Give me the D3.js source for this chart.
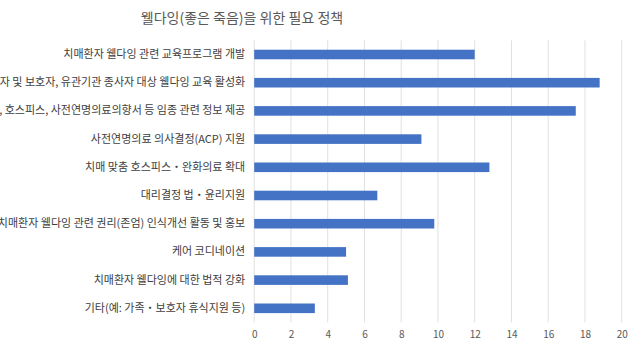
<!DOCTYPE html>
<html>
<head>
<meta charset="utf-8">
<script src="https://cdn.jsdelivr.net/npm/d3@7"></script>
<style>
  html, body { margin: 0; padding: 0; background: #fff; }
  svg { display: block; }
</style>
</head>
<body>
<svg id="chart" width="640" height="360"></svg>
<script>
const title = "웰다잉(좋은 죽음)을 위한 필요 정책";
const categories = [
  "치매환자 웰다잉 관련 교육프로그램 개발",
  "치매환자 및 보호자, 유관기관 종사자 대상 웰다잉 교육 활성화",
  "연명의료, 호스피스, 사전연명의료의향서 등 임종 관련 정보 제공",
  "사전연명의료 의사결정(ACP) 지원",
  "치매 맞춤 호스피스・완화의료 확대",
  "대리결정 법・윤리지원",
  "치매환자 웰다잉 관련 권리(존엄) 인식개선 활동 및 홍보",
  "케어 코디네이션",
  "치매환자 웰다잉에 대한 법적 강화",
  "기타(예: 가족・보호자 휴식지원 등)"
];
const values = [12.0, 18.8, 17.5, 9.1, 12.8, 6.7, 9.8, 5.0, 5.1, 3.3];
const xTicks = [0, 2, 4, 6, 8, 10, 12, 14, 16, 18, 20];

(function () {
const svg = d3.select("#chart");
const font = "'Noto Sans CJK KR', 'Noto Sans', sans-serif";
const mLeft = 254.2, mRight = 621.7, mTop = 40.4, mBottom = 322.4;

const x = d3.scaleLinear().domain([0, 20]).range([mLeft, mRight]);
const y = d3.scaleBand().domain(categories).range([mTop, mBottom]).paddingInner(0.66).paddingOuter(0.33);

svg.append("text")
  .attr("x", 242).attr("y", 23)
  .attr("text-anchor", "middle")
  .attr("font-family", font).attr("font-size", 14)
  .attr("fill", "#595959")
  .text(title);

svg.append("g").selectAll("line").data(xTicks).join("line")
  .attr("x1", d => x(d)).attr("x2", d => x(d))
  .attr("y1", mTop).attr("y2", mBottom)
  .attr("stroke", "#e0e0e0").attr("stroke-width", 1);

svg.append("g").selectAll("rect").data(values).join("rect")
  .attr("x", x(0))
  .attr("y", (d, i) => y(categories[i]))
  .attr("width", d => x(d) - x(0))
  .attr("height", y.bandwidth())
  .attr("fill", "#4472C4");

const xAxis = d3.axisBottom(x).tickValues(xTicks).tickSize(0).tickPadding(9);
const gx = svg.append("g").attr("transform", `translate(0,${mBottom})`).call(xAxis);
gx.select(".domain").remove();
gx.selectAll("text").attr("font-family", font).attr("font-size", 10).attr("fill", "#595959");

const yAxis = d3.axisLeft(y).tickSize(0).tickPadding(9);
const gy = svg.append("g").attr("transform", `translate(${mLeft},0)`).call(yAxis);
gy.select(".domain").remove();
gy.selectAll("text").attr("font-family", font).attr("font-size", 11).attr("fill", "#404040");
})();
</script>
</body>
</html>
